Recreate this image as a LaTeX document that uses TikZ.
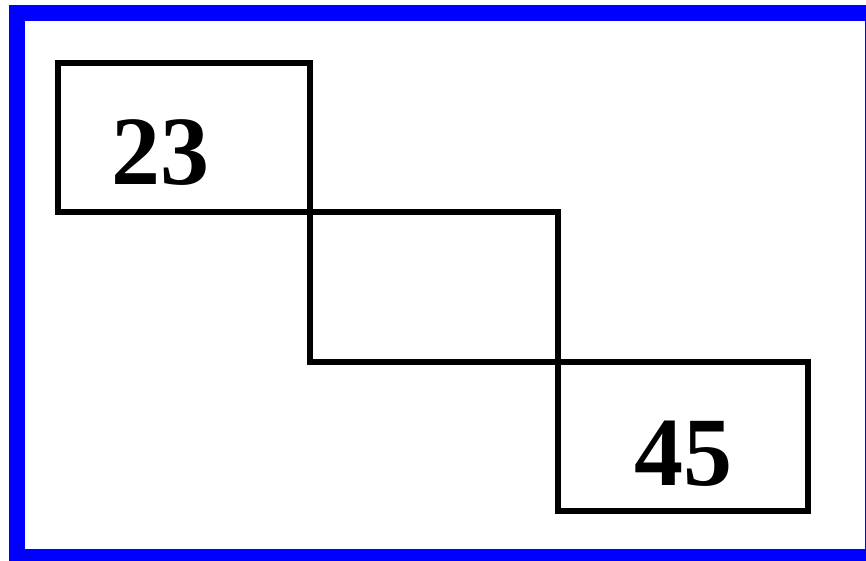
\documentclass[tikz,border=0pt]{standalone}
\usepackage{fontspec}
\setmainfont{Liberation Serif}
\begin{document}
\begin{tikzpicture}[x=1pt,y=1pt,
  cell/.style={draw=black,line width=6pt},
  num/.style={font=\bfseries\fontsize{98}{100}\selectfont,anchor=base,inner sep=0pt}]
\useasboundingbox (0,0) rectangle (866,560);
\fill[white] (0,0) rectangle (866,560);
\draw[blue,line width=16pt] (17,547) rectangle (873,3);
\draw[cell] (58,497) rectangle (310,348);
\draw[cell] (310,348) rectangle (558,198);
\draw[cell] (558,198) rectangle (808,49);
\node[num] (a) at (160,375) {23};
\node[num] (b) at (683,75) {45};
\end{tikzpicture}
\end{document}
